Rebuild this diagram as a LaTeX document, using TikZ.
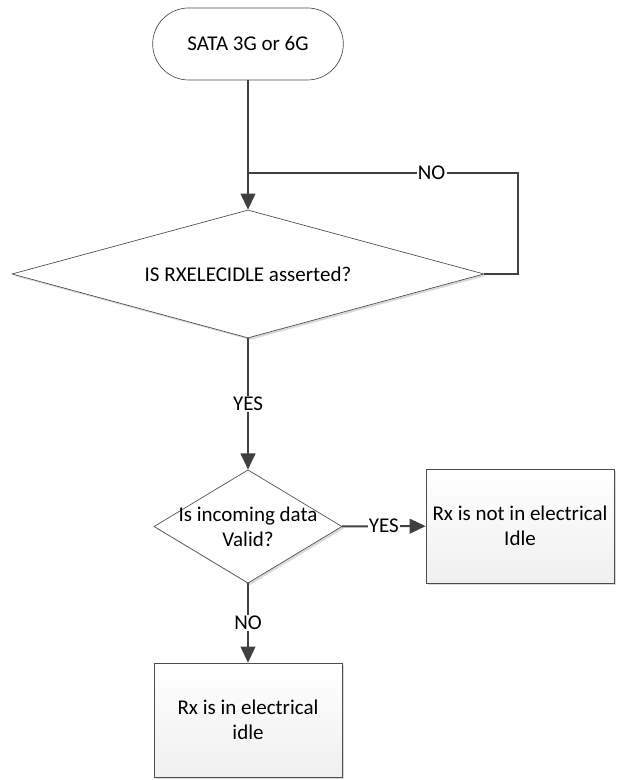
\documentclass[tikz,border=0pt]{standalone}
\usepackage{fontspec}
\setmainfont{Carlito}
\usetikzlibrary{shapes.geometric,arrows.meta,shadows}

\begin{document}
\begin{tikzpicture}[x=0.75pt,y=0.75pt,
  font=\fontsize{15.75}{19}\selectfont,
  shade/.style={drop shadow={shadow xshift=1.5pt,shadow yshift=-1.5pt,fill=black,opacity=0.15}},
  startstop/.style={draw=black!70,line width=0.5pt,rectangle,rounded corners=27pt,
    minimum width=143pt,minimum height=54pt,fill=white},
  decision/.style={draw=black!70,line width=0.5pt,diamond,align=center,fill=white,shade},
  process/.style={draw=black!70,line width=0.5pt,rectangle,align=center,
    minimum width=141pt,minimum height=85.5pt,top color=white,bottom color=black!6,shade},
  link/.style={draw=black!75,line width=1.5pt},
  flow/.style={link,-{Triangle[length=12pt,width=11pt]}},
  answer/.style={fill=white,inner sep=1pt}]
\useasboundingbox (0,0) rectangle (621,780);

% shapes
\node[startstop] (start) at (248,736) {SATA 3G or 6G};
\node[decision,inner sep=0pt,aspect=3.7,minimum width=354pt,minimum height=96pt]
  (idlechk) at (248,506) {IS RXELECIDLE asserted?};
\node[decision,inner sep=-8pt,aspect=1.66,minimum width=141pt,minimum height=85pt]
  (datachk) at (248,253.5) {Is incoming data\\Valid?};
\node[process] (notidle) at (520,254) {Rx is not in electrical\\Idle};
\node[process] (idle) at (248,60) {Rx is in electrical\\idle};

\coordinate (loop) at (518,607);
\coordinate (join) at (248,607);

% connectors
\draw[flow] (start) -- (idlechk);
\draw[link] (idlechk.east) -| (loop) -- node[answer,pos=0.32] {NO} (join);
\draw[flow] (idlechk) -- node[answer] {YES} (datachk);
\draw[flow] (datachk) -- node[answer] {YES} (notidle);
\draw[flow] (datachk) -- node[answer] {NO} (idle);
\end{tikzpicture}
\end{document}
